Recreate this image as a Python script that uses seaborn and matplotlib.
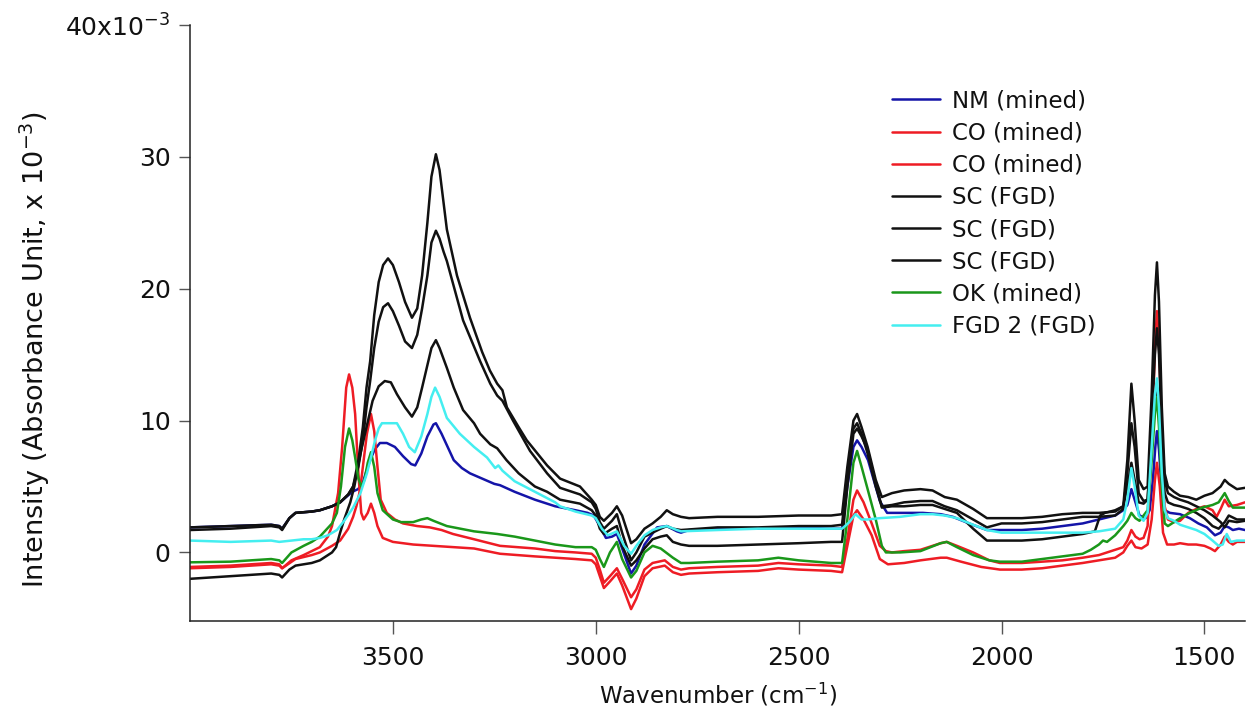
import matplotlib
matplotlib.use("Agg")
import matplotlib.pyplot as plt
import seaborn as sns
import pandas as pd

# (wavenumber cm^-1, absorbance x 10^-3) for each FTIR spectrum
nm_mined = [
    (4000, 1.9), (3900, 2.0), (3800, 2.1), (3780, 2.0), (3773, 1.8), (3755, 2.6), (3740, 3.0),
    (3700, 3.1), (3680, 3.2), (3650, 3.5), (3630, 3.8), (3600, 4.6), (3586, 4.8), (3575, 5.2),
    (3565, 6.2), (3556, 7.0), (3545, 7.8), (3532, 8.3), (3515, 8.3), (3495, 8.0), (3475, 7.3),
    (3455, 6.7), (3445, 6.6), (3430, 7.5), (3415, 8.8), (3400, 9.7), (3394, 9.8), (3380, 9.0),
    (3365, 8.0), (3350, 7.0), (3330, 6.4), (3310, 6.0), (3280, 5.6), (3250, 5.2), (3236, 5.1),
    (3200, 4.6), (3150, 4.0), (3100, 3.5), (3050, 3.2), (3020, 3.0), (3005, 2.8), (2990, 2.0),
    (2975, 1.1), (2960, 1.2), (2948, 1.4), (2935, 0.3), (2913, -1.6), (2900, -1.0), (2880, 0.6),
    (2849, 1.9), (2825, 2.0), (2800, 1.6), (2790, 1.5), (2770, 1.7), (2700, 1.8), (2600, 1.8),
    (2500, 1.9), (2420, 1.8), (2393, 1.8), (2380, 5.0), (2365, 8.0), (2356, 8.5), (2345, 8.0),
    (2329, 7.0), (2315, 5.5), (2300, 3.9), (2282, 3.0), (2240, 3.0), (2194, 3.0), (2150, 2.9),
    (2120, 2.7), (2080, 2.2), (2036, 1.7), (2000, 1.7), (1950, 1.7), (1900, 1.8), (1850, 2.0),
    (1800, 2.2), (1760, 2.5), (1720, 2.8), (1700, 3.2), (1690, 3.6), (1680, 4.8), (1670, 3.8),
    (1660, 2.8), (1645, 2.6), (1635, 3.2), (1627, 5.5), (1621, 8.0), (1617, 9.2), (1612, 7.8),
    (1605, 4.5), (1598, 3.2), (1585, 3.0), (1560, 2.9), (1536, 2.6), (1515, 2.2), (1494, 1.9),
    (1474, 1.3), (1460, 1.5), (1450, 2.0), (1440, 1.9), (1430, 1.7), (1415, 1.8), (1400, 1.7),
]

co_mined_a = [
    (4000, -1.2), (3900, -1.1), (3800, -0.9), (3780, -1.0), (3773, -1.2), (3750, -0.6),
    (3720, -0.2), (3700, 0.1), (3680, 0.4), (3660, 1.2), (3650, 2.0), (3635, 4.5), (3625, 8.0),
    (3615, 12.5), (3608, 13.5), (3600, 12.5), (3593, 10.5), (3585, 6.0), (3578, 3.0),
    (3572, 2.5), (3562, 3.0), (3554, 3.7), (3546, 3.0), (3538, 2.0), (3525, 1.1), (3500, 0.8),
    (3450, 0.6), (3400, 0.5), (3350, 0.4), (3300, 0.3), (3236, -0.1), (3150, -0.3), (3100, -0.4),
    (3050, -0.5), (3010, -0.6), (3000, -0.9), (2990, -1.8), (2980, -2.7), (2965, -2.2),
    (2948, -1.6), (2935, -2.5), (2913, -4.3), (2900, -3.5), (2880, -1.8), (2860, -1.2),
    (2830, -1.0), (2810, -1.5), (2790, -1.7), (2770, -1.6), (2700, -1.5), (2600, -1.4),
    (2550, -1.2), (2500, -1.3), (2420, -1.4), (2393, -1.5), (2380, 0.5), (2365, 2.8),
    (2356, 3.2), (2340, 2.5), (2320, 1.3), (2300, -0.5), (2280, -0.9), (2240, -0.8),
    (2200, -0.6), (2150, -0.4), (2135, -0.4), (2100, -0.7), (2050, -1.1), (2004, -1.3),
    (1950, -1.3), (1900, -1.2), (1850, -1.0), (1800, -0.8), (1760, -0.6), (1720, -0.4),
    (1700, 0.0), (1690, 0.5), (1680, 0.9), (1670, 0.4), (1655, 0.3), (1640, 0.6), (1630, 2.5),
    (1622, 5.5), (1617, 6.8), (1610, 5.0), (1602, 1.5), (1592, 0.6), (1575, 0.6), (1560, 0.7),
    (1540, 0.6), (1520, 0.6), (1500, 0.5), (1485, 0.3), (1474, 0.1), (1460, 0.6), (1450, 1.2),
    (1440, 0.8), (1430, 0.6), (1420, 0.8), (1400, 0.8),
]

co_mined_b = [
    (4000, -1.1), (3900, -1.0), (3800, -0.8), (3780, -0.9), (3773, -1.2), (3740, -0.5),
    (3700, -0.2), (3680, 0.0), (3650, 0.5), (3630, 0.9), (3610, 1.8), (3598, 2.7), (3590, 3.5),
    (3581, 4.7), (3572, 7.0), (3564, 9.0), (3554, 10.5), (3546, 9.2), (3538, 6.5), (3530, 4.0),
    (3515, 3.0), (3495, 2.5), (3475, 2.2), (3440, 2.0), (3409, 1.9), (3380, 1.7), (3352, 1.4),
    (3300, 1.0), (3236, 0.5), (3150, 0.3), (3100, 0.1), (3050, 0.0), (3010, -0.1), (3000, -0.4),
    (2990, -1.3), (2980, -2.3), (2965, -1.8), (2948, -1.2), (2935, -2.0), (2913, -3.4),
    (2900, -2.8), (2880, -1.3), (2860, -0.8), (2830, -0.6), (2810, -1.1), (2790, -1.3),
    (2770, -1.2), (2700, -1.1), (2600, -1.0), (2550, -0.8), (2500, -0.9), (2420, -1.0),
    (2393, -1.1), (2380, 1.0), (2365, 4.0), (2356, 4.7), (2340, 3.8), (2320, 2.2), (2300, 0.5),
    (2285, 0.1), (2270, 0.0), (2240, 0.1), (2200, 0.2), (2150, 0.7), (2135, 0.8), (2110, 0.5),
    (2070, 0.0), (2030, -0.6), (2004, -0.8), (1950, -0.8), (1900, -0.7), (1850, -0.6),
    (1800, -0.4), (1760, -0.2), (1740, 0.0), (1720, 0.2), (1700, 0.4), (1690, 0.9), (1680, 1.7),
    (1670, 1.2), (1660, 1.0), (1650, 1.1), (1640, 2.0), (1630, 8.0), (1622, 15.5), (1617, 18.3),
    (1612, 16.0), (1605, 9.0), (1598, 3.5), (1590, 2.5), (1575, 2.3), (1560, 2.4), (1540, 3.0),
    (1520, 3.3), (1500, 3.5), (1480, 3.2), (1470, 2.7), (1460, 3.3), (1450, 4.0), (1440, 3.5),
    (1420, 3.6), (1400, 3.8),
]

sc_fgd_1 = [
    (4000, 1.7), (3900, 1.8), (3800, 2.0), (3780, 1.9), (3773, 1.7), (3755, 2.6), (3740, 3.0),
    (3700, 3.1), (3680, 3.2), (3650, 3.5), (3630, 3.8), (3610, 4.4), (3598, 5.0), (3585, 7.0),
    (3574, 9.5), (3565, 12.5), (3556, 14.5), (3546, 18.0), (3535, 20.5), (3524, 21.8),
    (3512, 22.3), (3500, 21.8), (3485, 20.5), (3470, 19.0), (3453, 17.8), (3440, 18.5),
    (3428, 21.0), (3415, 25.0), (3405, 28.5), (3394, 30.2), (3385, 29.0), (3375, 26.5),
    (3367, 24.5), (3342, 21.0), (3310, 17.8), (3280, 15.2), (3261, 13.8), (3243, 12.8),
    (3230, 12.3), (3219, 11.0), (3190, 9.5), (3170, 8.5), (3120, 6.6), (3088, 5.6), (3039, 5.0),
    (3010, 4.0), (3000, 3.6), (2990, 2.7), (2980, 2.4), (2960, 3.0), (2948, 3.5), (2935, 2.8),
    (2913, 0.7), (2900, 1.0), (2880, 1.8), (2860, 2.2), (2840, 2.7), (2825, 3.2), (2810, 2.9),
    (2790, 2.7), (2770, 2.6), (2700, 2.7), (2600, 2.7), (2500, 2.8), (2420, 2.8), (2393, 2.9),
    (2380, 6.5), (2365, 10.0), (2356, 10.5), (2345, 9.5), (2330, 8.0), (2310, 5.5), (2295, 4.2),
    (2270, 4.5), (2240, 4.7), (2200, 4.8), (2170, 4.7), (2140, 4.2), (2110, 4.0), (2070, 3.3),
    (2036, 2.6), (2000, 2.6), (1950, 2.6), (1900, 2.7), (1850, 2.9), (1800, 3.0), (1760, 3.0),
    (1720, 3.1), (1700, 3.5), (1690, 7.0), (1680, 12.8), (1672, 10.0), (1662, 5.5), (1650, 4.8),
    (1640, 5.0), (1630, 12.0), (1622, 19.5), (1617, 22.0), (1612, 19.0), (1605, 11.0),
    (1598, 6.0), (1590, 5.0), (1575, 4.6), (1560, 4.3), (1540, 4.2), (1520, 4.0), (1500, 4.3),
    (1480, 4.5), (1460, 5.0), (1450, 5.5), (1440, 5.2), (1420, 4.8), (1400, 4.9),
]

sc_fgd_2 = [
    (4000, 1.9), (3900, 2.0), (3800, 2.1), (3780, 2.0), (3773, 1.8), (3755, 2.6), (3740, 3.0),
    (3700, 3.1), (3680, 3.2), (3650, 3.5), (3630, 3.8), (3610, 4.4), (3598, 5.0), (3585, 6.5),
    (3574, 8.5), (3565, 11.0), (3556, 13.0), (3546, 15.5), (3535, 17.5), (3524, 18.6),
    (3512, 18.9), (3500, 18.3), (3485, 17.2), (3470, 16.0), (3453, 15.5), (3440, 16.5),
    (3428, 18.5), (3415, 21.0), (3405, 23.5), (3394, 24.4), (3385, 23.8), (3375, 22.8),
    (3367, 22.1), (3327, 17.6), (3285, 14.5), (3260, 12.8), (3243, 11.9), (3230, 11.5),
    (3204, 10.0), (3162, 7.7), (3120, 6.0), (3088, 4.9), (3039, 4.4), (3010, 3.8), (3000, 3.3),
    (2990, 2.3), (2980, 1.8), (2960, 2.4), (2948, 2.9), (2935, 1.5), (2913, -0.6), (2900, 0.0),
    (2880, 1.2), (2860, 1.5), (2840, 1.8), (2825, 2.0), (2810, 1.8), (2790, 1.7), (2700, 1.9),
    (2600, 1.9), (2500, 2.0), (2420, 2.0), (2393, 2.1), (2380, 6.0), (2365, 9.4), (2356, 9.8),
    (2345, 9.0), (2330, 7.5), (2310, 5.0), (2295, 3.5), (2270, 3.6), (2240, 3.8), (2200, 3.9),
    (2170, 3.9), (2140, 3.5), (2110, 3.2), (2070, 2.5), (2036, 1.9), (2000, 2.2), (1950, 2.2),
    (1900, 2.3), (1850, 2.5), (1800, 2.7), (1760, 2.7), (1720, 2.8), (1700, 3.3), (1690, 6.0),
    (1680, 9.8), (1672, 8.0), (1662, 4.5), (1650, 3.9), (1640, 4.0), (1630, 10.0), (1622, 15.0),
    (1617, 17.0), (1612, 15.0), (1605, 9.0), (1598, 5.5), (1590, 4.5), (1575, 4.2), (1560, 4.0),
    (1540, 3.8), (1520, 3.5), (1500, 3.2), (1480, 2.8), (1460, 2.3), (1450, 1.9), (1440, 2.4),
    (1420, 2.3), (1400, 2.4),
]

sc_fgd_3 = [
    (4000, -2.0), (3900, -1.8), (3800, -1.6), (3780, -1.7), (3773, -1.9), (3755, -1.3),
    (3740, -1.0), (3700, -0.8), (3680, -0.6), (3650, 0.0), (3640, 0.4), (3630, 1.5), (3620, 2.5),
    (3605, 3.8), (3595, 5.0), (3580, 7.5), (3565, 9.5), (3550, 11.5), (3535, 12.6), (3520, 13.0),
    (3505, 12.9), (3490, 12.0), (3470, 11.0), (3453, 10.3), (3440, 11.0), (3428, 12.5),
    (3415, 14.2), (3405, 15.5), (3394, 16.1), (3385, 15.5), (3367, 14.0), (3350, 12.5),
    (3327, 10.8), (3300, 9.8), (3285, 9.0), (3260, 8.2), (3243, 7.9), (3220, 7.0), (3190, 6.0),
    (3150, 5.0), (3120, 4.6), (3088, 4.0), (3039, 3.7), (3010, 3.2), (3000, 2.8), (2990, 1.8),
    (2980, 1.4), (2960, 1.8), (2948, 2.0), (2935, 0.5), (2913, -1.0), (2900, -0.6), (2880, 0.3),
    (2860, 1.0), (2840, 1.2), (2825, 1.3), (2810, 0.8), (2790, 0.6), (2770, 0.5), (2700, 0.5),
    (2600, 0.6), (2500, 0.7), (2420, 0.8), (2393, 0.8), (2380, 5.0), (2365, 9.0), (2356, 9.4),
    (2345, 8.8), (2330, 7.8), (2310, 5.2), (2295, 3.4), (2270, 3.5), (2240, 3.5), (2200, 3.6),
    (2170, 3.6), (2140, 3.3), (2110, 3.0), (2070, 1.8), (2036, 0.9), (2000, 0.9), (1950, 0.9),
    (1900, 1.0), (1850, 1.2), (1800, 1.4), (1770, 1.6), (1757, 2.8), (1745, 3.0), (1720, 3.2),
    (1700, 3.5), (1690, 5.0), (1680, 6.8), (1672, 5.5), (1662, 3.8), (1650, 3.7), (1640, 4.0),
    (1630, 8.5), (1622, 11.5), (1617, 12.5), (1612, 11.0), (1605, 7.0), (1598, 4.5), (1590, 3.8),
    (1575, 3.6), (1560, 3.5), (1540, 3.3), (1520, 3.0), (1500, 2.6), (1480, 2.0), (1465, 1.8),
    (1450, 2.3), (1440, 2.8), (1420, 2.5), (1400, 2.5),
]

ok_mined = [
    (4000, -0.75), (3900, -0.7), (3800, -0.5), (3780, -0.6), (3773, -0.8), (3750, 0.0),
    (3720, 0.5), (3700, 0.8), (3680, 1.2), (3650, 2.2), (3638, 3.0), (3628, 5.0), (3618, 8.0),
    (3608, 9.4), (3600, 8.5), (3593, 7.2), (3585, 5.6), (3578, 5.0), (3570, 5.5), (3562, 6.8),
    (3554, 7.6), (3546, 6.5), (3538, 4.5), (3525, 3.2), (3500, 2.5), (3480, 2.3), (3450, 2.3),
    (3430, 2.5), (3415, 2.6), (3400, 2.4), (3367, 2.0), (3300, 1.6), (3243, 1.4), (3200, 1.2),
    (3150, 0.9), (3100, 0.6), (3050, 0.4), (3010, 0.4), (3000, 0.2), (2990, -0.5), (2980, -1.1),
    (2965, 0.0), (2948, 0.8), (2935, -0.5), (2913, -1.9), (2900, -1.4), (2880, 0.0), (2860, 0.5),
    (2840, 0.3), (2810, -0.4), (2790, -0.8), (2770, -0.8), (2700, -0.7), (2600, -0.6),
    (2550, -0.4), (2500, -0.6), (2420, -0.8), (2393, -0.8), (2380, 2.5), (2365, 6.8),
    (2356, 7.7), (2345, 6.5), (2330, 4.8), (2310, 2.5), (2295, 0.5), (2285, 0.0), (2250, 0.0),
    (2200, 0.1), (2150, 0.7), (2135, 0.8), (2110, 0.4), (2070, -0.2), (2030, -0.6), (2004, -0.7),
    (1950, -0.7), (1900, -0.5), (1850, -0.3), (1800, -0.1), (1780, 0.2), (1760, 0.6),
    (1750, 0.9), (1740, 0.8), (1720, 1.3), (1700, 2.0), (1690, 2.4), (1680, 3.0), (1670, 2.6),
    (1660, 2.4), (1650, 2.8), (1640, 3.2), (1630, 7.0), (1622, 10.5), (1617, 11.8), (1612, 9.5),
    (1605, 5.0), (1598, 2.2), (1590, 2.0), (1560, 2.6), (1536, 3.0), (1506, 3.4), (1480, 3.6),
    (1465, 3.8), (1450, 4.5), (1440, 3.9), (1430, 3.4), (1415, 3.4), (1400, 3.4),
]

fgd2_fgd = [
    (4000, 0.9), (3900, 0.8), (3800, 0.9), (3780, 0.8), (3750, 0.9), (3720, 1.0), (3700, 1.0),
    (3680, 1.1), (3660, 1.3), (3638, 1.7), (3620, 2.4), (3598, 3.4), (3580, 4.5), (3564, 6.0),
    (3554, 7.2), (3544, 8.5), (3535, 9.4), (3527, 9.8), (3510, 9.8), (3490, 9.8), (3475, 9.0),
    (3460, 8.0), (3446, 7.6), (3430, 8.8), (3415, 10.5), (3405, 11.8), (3396, 12.5), (3385, 11.8),
    (3367, 10.2), (3335, 9.0), (3300, 8.0), (3268, 7.2), (3248, 6.4), (3240, 6.6), (3230, 6.2),
    (3200, 5.4), (3150, 4.6), (3100, 3.8), (3088, 3.5), (3050, 3.1), (3010, 2.8), (3000, 2.6),
    (2985, 1.8), (2970, 1.3), (2948, 1.6), (2930, 0.5), (2913, -0.1), (2900, 0.5), (2880, 1.3),
    (2860, 1.7), (2840, 1.9), (2825, 2.0), (2800, 1.7), (2790, 1.6), (2700, 1.7), (2600, 1.8),
    (2500, 1.8), (2420, 1.8), (2393, 1.8), (2375, 2.3), (2360, 2.9), (2345, 2.5), (2330, 2.5),
    (2300, 2.6), (2250, 2.7), (2200, 2.9), (2170, 2.9), (2140, 2.8), (2110, 2.6), (2070, 2.1),
    (2036, 1.7), (2000, 1.5), (1950, 1.5), (1900, 1.5), (1850, 1.5), (1800, 1.5), (1760, 1.6),
    (1720, 1.8), (1700, 2.5), (1690, 4.0), (1680, 6.4), (1672, 5.0), (1662, 2.8), (1650, 2.4),
    (1640, 3.0), (1630, 8.0), (1622, 12.0), (1617, 13.2), (1612, 11.0), (1605, 6.0), (1598, 3.2),
    (1590, 2.6), (1575, 2.4), (1560, 2.1), (1540, 1.9), (1520, 1.7), (1500, 1.4), (1480, 0.9),
    (1465, 0.5), (1455, 0.6), (1445, 1.4), (1435, 0.8), (1420, 0.9), (1400, 0.9),
]

spectra = [
    ("NM (mined)", nm_mined, "#1414a8"),
    ("CO (mined)", co_mined_a, "#ee1c24"),
    ("CO (mined)", co_mined_b, "#ee1c24"),
    ("SC (FGD)", sc_fgd_1, "#111111"),
    ("SC (FGD)", sc_fgd_2, "#111111"),
    ("SC (FGD)", sc_fgd_3, "#111111"),
    ("OK (mined)", ok_mined, "#1a971a"),
    ("FGD 2 (FGD)", fgd2_fgd, "#44eef0"),
]

sns.set_style("ticks")
plt.rcParams["font.family"] = ["DejaVu Sans"]
plt.rcParams["mathtext.default"] = "regular"
plt.rcParams["text.color"] = "#111111"

fig = plt.figure(figsize=(12.5, 7.19), dpi=100)
ax = fig.add_axes([0.152, 0.1363, 0.844, 0.8289])

for label, points, color in spectra:
    df = pd.DataFrame(points, columns=["wavenumber", "absorbance"])
    sns.lineplot(data=df, x="wavenumber", y="absorbance", color=color, label=label,
                 linewidth=1.8, estimator=None, ax=ax)

ax.set_xlim(4000, 1400)
ax.set_ylim(-5.2, 40)

ax.set_xticks([3500, 3000, 2500, 2000, 1500])
ax.set_xticklabels(["3500", "3000", "2500", "2000", "1500"])
ax.set_yticks([0, 10, 20, 30, 40])
ax.set_yticklabels(["0", "10", "20", "30", r"40x10$^{-3}$"])

for side in ("top", "right"):
    ax.spines[side].set_visible(False)
for side in ("left", "bottom"):
    ax.spines[side].set_color("#222222")
    ax.spines[side].set_linewidth(1.1)

ax.tick_params(axis="both", direction="out", width=1.0, color="#555555",
               labelsize=18, labelcolor="#111111")
ax.tick_params(axis="x", length=9, pad=9)
ax.tick_params(axis="y", length=8, pad=6)

ax.set_xlabel(r"Wavenumber (cm$^{-1}$)", fontsize=16.5, color="#111111", labelpad=8)
ax.set_ylabel(r"Intensity (Absorbance Unit, x 10$^{-3}$)", fontsize=19.5, color="#111111")
ax.yaxis.set_label_coords(-0.131, 0.456)

leg = ax.legend(loc="upper left", bbox_to_anchor=(0.665, 0.892), frameon=False,
                fontsize=16.5, handlelength=2.1, handletextpad=0.55, labelspacing=0.40,
                borderpad=0.0, borderaxespad=0.0)
for line in leg.get_lines():
    line.set_linewidth(1.8)
for text in leg.get_texts():
    text.set_color("#111111")

fig.savefig("out.png", dpi=100)
